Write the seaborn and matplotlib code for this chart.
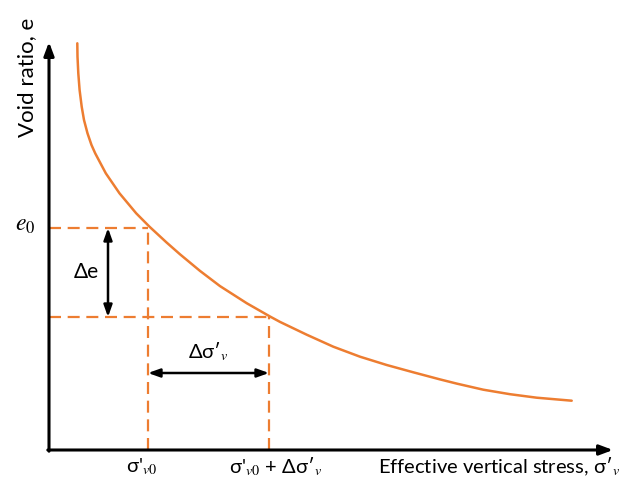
import matplotlib
matplotlib.use("Agg")
import matplotlib.pyplot as plt
import seaborn as sns
import pandas as pd

# Curve values (stress, void ratio) in arbitrary units
stress = [0.283, 0.285, 0.293, 0.306, 0.327, 0.350, 0.385, 0.425, 0.462, 0.568, 0.705, 0.872,
          1.005, 1.177, 1.31, 1.51, 1.71, 1.977, 2.21, 2.31, 2.577, 2.843, 3.11,
          3.377, 3.643, 3.91, 4.077, 4.343, 4.61, 4.877, 5.227]
void_ratio = [4.067, 3.933, 3.767, 3.60, 3.433, 3.30, 3.167, 3.05, 2.967, 2.767, 2.567, 2.367,
              2.233, 2.074, 1.957, 1.791, 1.639, 1.468, 1.335, 1.281, 1.153, 1.033, 0.933,
              0.85, 0.777, 0.706, 0.664, 0.603, 0.558, 0.523, 0.493]

sigma_v0 = 0.99      # initial effective stress
sigma_v1 = 2.20      # sigma_v0 + delta sigma
e0 = 2.22            # initial void ratio
e1 = 1.33            # void ratio after loading

x_axis_end = 5.64
y_axis_end = 4.08

df = pd.DataFrame({"stress": stress, "e": void_ratio})

sns.set_style("white")
plt.rcParams["font.family"] = ["Lato", "DejaVu Sans"]
plt.rcParams["mathtext.fontset"] = "stix"
plt.rcParams["text.color"] = "black"

ORANGE = "#ED7D31"

fig = plt.figure(figsize=(6.35, 4.92), dpi=100)
ax = fig.add_axes([0, 0, 1, 1])
ax.set_xlim(-0.49, 5.86)
ax.set_ylim(-0.42, 4.50)
ax.axis("off")

sns.lineplot(data=df, x="stress", y="e", ax=ax, color=ORANGE, lw=1.8, sort=False)
ax.lines[-1].set_solid_joinstyle("round")

dash = (0, (5.4, 3.0))
ax.plot([0, sigma_v0], [e0, e0], color=ORANGE, lw=1.6, ls=dash)
ax.plot([sigma_v0, sigma_v0], [0, e0], color=ORANGE, lw=1.6, ls=dash)
ax.plot([0, sigma_v1], [e1, e1], color=ORANGE, lw=1.6, ls=dash)
ax.plot([sigma_v1, sigma_v1], [0, e1], color=ORANGE, lw=1.6, ls=dash)

# axes arrows
ax.annotate("", xy=(x_axis_end, 0), xytext=(-0.012, 0),
            arrowprops=dict(arrowstyle="-|>,head_length=0.8,head_width=0.3", color="black", lw=2.2,
                            shrinkA=0, shrinkB=0))
ax.annotate("", xy=(0, y_axis_end), xytext=(0, -0.012),
            arrowprops=dict(arrowstyle="-|>,head_length=0.8,head_width=0.3", color="black", lw=2.2,
                            shrinkA=0, shrinkB=0))

# delta arrows
de_x = 0.59
ds_y = 0.77
ax.annotate("", xy=(de_x, e0), xytext=(de_x, e1),
            arrowprops=dict(arrowstyle="<|-|>,head_length=0.7,head_width=0.25", color="black", lw=1.8,
                            shrinkA=0, shrinkB=0))
ax.annotate("", xy=(sigma_v0, ds_y), xytext=(sigma_v1, ds_y),
            arrowprops=dict(arrowstyle="<|-|>,head_length=0.7,head_width=0.25", color="black", lw=1.8,
                            shrinkA=0, shrinkB=0))

fs = 14.5
ax.text(0.37, (e0 + e1) / 2, "Δe", fontsize=15, ha="center", va="center", color="black")
ax.text((sigma_v0 + sigma_v1) / 2, ds_y + 0.21, r"Δσ′$_v$", fontsize=fs, ha="center", va="center",
        color="black")
ax.text(-0.24, e0 + 0.02, r"$e_0$", fontsize=17, ha="center", va="center", color="black")
ax.text(sigma_v0 - 0.06, -0.17, r"σ'$_{v0}$", fontsize=fs, ha="center", va="center", color="black")
ax.text(sigma_v1 + 0.07, -0.17, r"σ'$_{v0}$ + Δσ′$_v$", fontsize=fs, ha="center", va="center",
        color="black")
ax.text(5.71, -0.17, r"Effective vertical stress, σ′$_v$", fontsize=fs,
        ha="right", va="center", color="black")
ax.text(-0.22, 3.73, "Void ratio, e", fontsize=16, ha="center", va="center", rotation=90,
        color="black")

fig.savefig("out.png", dpi=100)
